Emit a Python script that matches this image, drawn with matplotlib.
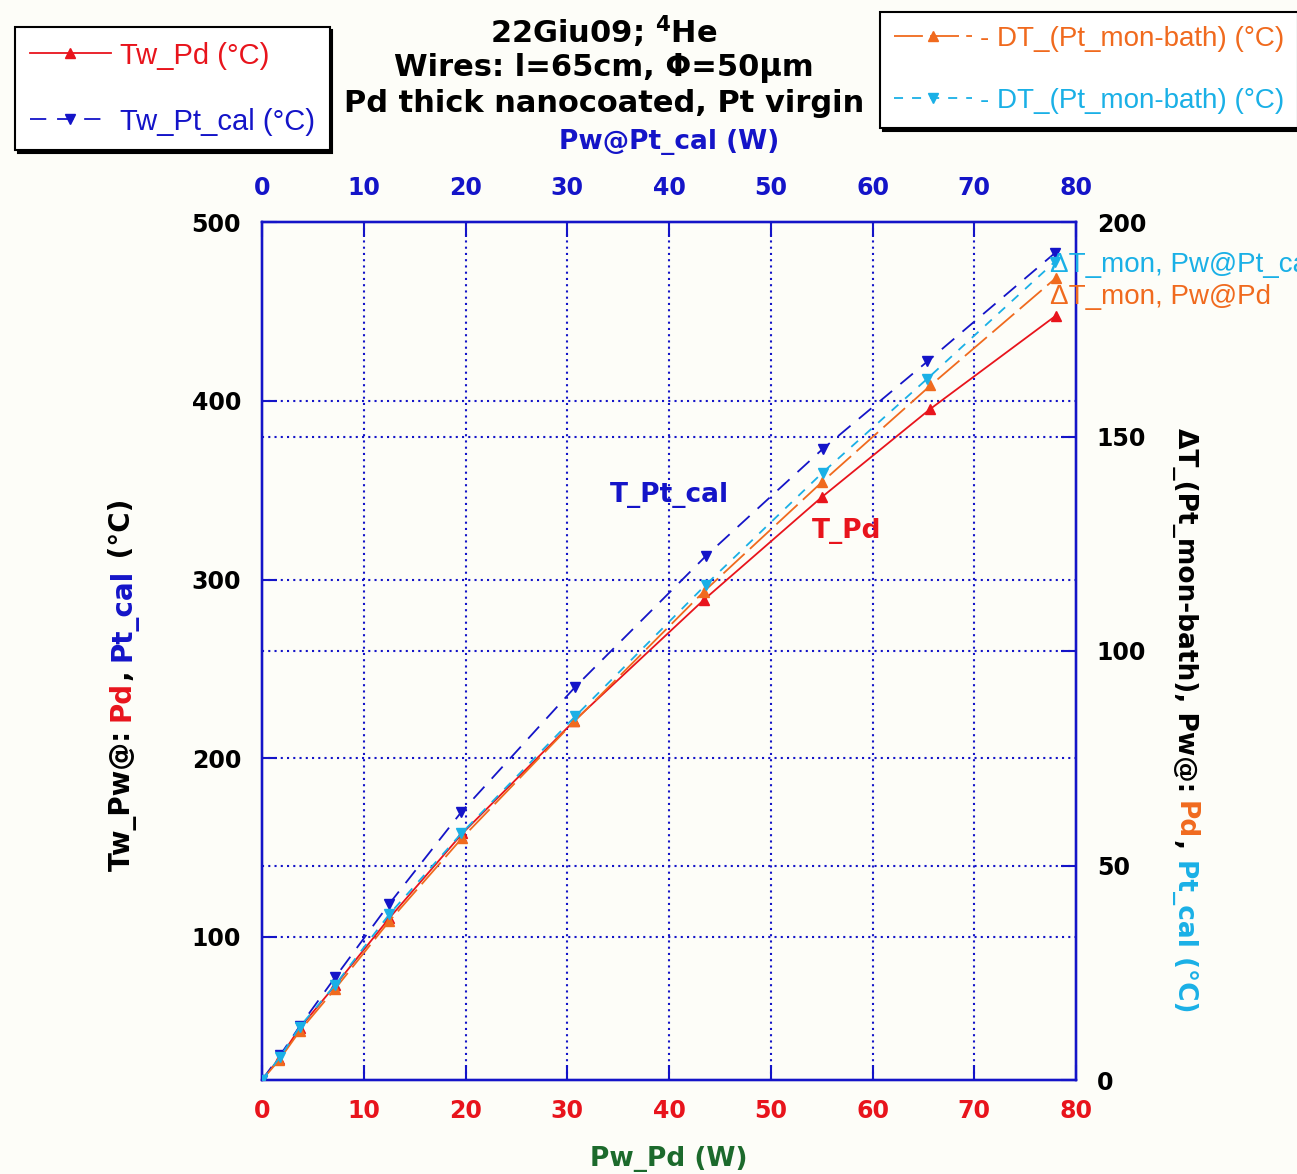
import matplotlib
matplotlib.use("Agg")
import matplotlib.pyplot as plt
from matplotlib.lines import Line2D

###############################################################################
# Data
###############################################################################

pw_pd = [0, 1.7, 3.7, 7.2, 12.5, 19.7, 30.7, 43.4, 55.0, 65.7, 78.0]
tw_pd = [20, 32, 49, 73, 110.5, 158, 221, 288.5, 346, 395.5, 447.5]

pw_pt = [0, 1.8, 3.7, 7.2, 12.5, 19.6, 30.8, 43.6, 55.1, 65.4, 77.9]
tw_pt = [20, 34, 50, 77.5, 118.5, 170, 240, 313, 373, 422, 482.5]

dt_pd = [0, 4.7, 11.4, 21.3, 37, 56.5, 83.6, 113.8, 139.3, 161.9, 186.9]
dt_pt = [0, 5.4, 12.4, 22.2, 38.6, 57.5, 84.8, 115.4, 141.6, 163.5, 190.7]

x_ticks = [0, 10, 20, 30, 40, 50, 60, 70, 80]
left_ticks = [100, 200, 300, 400, 500]
right_ticks = [0, 50, 100, 150, 200]

###############################################################################
# Style
###############################################################################

RED = "#e8141c"
BLUE = "#1414c8"
ORANGE = "#f06a1e"
CYAN = "#1ab0e6"
GREEN = "#1c6a2c"
BG = "#fdfdf8"

plt.rcParams["font.family"] = ["Liberation Sans", "DejaVu Sans"]
plt.rcParams["mathtext.fontset"] = "custom"
plt.rcParams["mathtext.bf"] = "DejaVu Sans:bold"

BOLD = ["DejaVu Sans"]

W, H = 1297, 1174
fig = plt.figure(figsize=(W / 100, H / 100), dpi=100, facecolor=BG)

ax = fig.add_axes([262 / W, 1 - 1080 / H, (1076 - 262) / W, (1080 - 222) / H])
ax.set_facecolor(BG)
ax_top = ax.twiny()
ax_r = ax.twinx()

###############################################################################
# Curves
###############################################################################

ax.plot(pw_pd, tw_pd, color=RED, lw=1.3, marker="^", ms=7, zorder=5)
ax_top.plot(pw_pt, tw_pt, color=BLUE, lw=1.3, ls=(0, (9, 6)), marker="v",
            ms=7, zorder=5)
ax_r.plot(pw_pd, dt_pd, color=ORANGE, lw=1.3, ls=(0, (16, 4)), marker="^",
          ms=7, zorder=4)
ax_r.plot(pw_pt, dt_pt, color=CYAN, lw=1.3, ls=(0, (5, 5)), marker="v",
          ms=7, zorder=4)

###############################################################################
# Axes formatting
###############################################################################

ax.set_xlim(0, 80)
ax.set_ylim(20, 500)
ax_top.set_xlim(0, 80)
ax_r.set_ylim(0, 200)

ax.set_xticks(x_ticks)
ax_top.set_xticks(x_ticks)
ax.set_yticks(left_ticks)
ax_r.set_yticks(right_ticks)

for a in (ax, ax_top, ax_r):
    for s in a.spines.values():
        s.set_color(BLUE)
        s.set_linewidth(1.6)
    a.tick_params(direction="in", length=11, width=1.5, color=BLUE,
                  labelsize=17, pad=15)
ax.tick_params(axis="x", pad=14)
ax_top.tick_params(axis="x", pad=16)

for lab in ax.get_xticklabels():
    lab.set_color(RED)
for lab in ax_top.get_xticklabels():
    lab.set_color(BLUE)
for lab in (ax.get_xticklabels() + ax_top.get_xticklabels()
            + ax.get_yticklabels() + ax_r.get_yticklabels()):
    lab.set_fontweight("bold")
    lab.set_family(BOLD)

# dotted grid: vertical from x ticks, horizontal from both y axes
for xv in x_ticks[1:-1]:
    ax.axvline(xv, color=BLUE, ls=(0, (1, 2)), lw=1.5, zorder=1)
for yv in left_ticks[:-1]:
    ax.axhline(yv, color=BLUE, ls=(0, (1, 2)), lw=1.5, zorder=1)
for yv in right_ticks[1:-1]:
    ax_r.axhline(yv, color=BLUE, ls=(0, (1, 2)), lw=1.5, zorder=1)

ax.set_xlabel("Pw_Pd (W)", color=GREEN, fontsize=19, fontweight="bold",
              family=BOLD, labelpad=16)
ax_top.set_xlabel("Pw@Pt_cal (W)", color=BLUE, fontsize=19,
                  fontweight="bold", family=BOLD, labelpad=19)

###############################################################################
# In-plot annotations
###############################################################################

ax.text(34.2, 347, "T_Pt_cal", color=BLUE, fontsize=19, fontweight="bold",
        family=BOLD, va="center")
ax.text(54.0, 327, "T_Pd", color=RED, fontsize=19, fontweight="bold",
        family=BOLD, va="center")
ax_r.text(77.4, 190, "\u0394T_mon, Pw@Pt_cal", color=CYAN, fontsize=20,
          va="center", clip_on=False)
ax_r.text(77.4, 182.5, "\u0394T_mon, Pw@Pd", color=ORANGE, fontsize=20,
          va="center", clip_on=False)

###############################################################################
# Title
###############################################################################

title_lines = [r"22Giu09; $^\mathbf{4}$He",
               "Wires: l=65cm, \u03a6=50\u03bcm",
               "Pd thick nanocoated, Pt virgin"]
for line, ypx in zip(title_lines, [32, 68, 103]):
    fig.text(604 / W, 1 - ypx / H, line, ha="center", va="center",
             fontsize=22, fontweight="bold", family=BOLD)

###############################################################################
# Multi-colour rotated axis labels
###############################################################################

renderer = fig.canvas.get_renderer()


def text_len(s, **kw):
    t1 = fig.text(0, 0, s + "|", **kw)
    t2 = fig.text(0, 0, "|", **kw)
    w = t1.get_window_extent(renderer).width - t2.get_window_extent(renderer).width
    t1.remove()
    t2.remove()
    return w


def color_label(parts, x_px, y_mid_px, rotation, **kw):
    total = text_len("".join(p for p, _ in parts), **kw)
    sign = 1 if rotation == 90 else -1
    pos = y_mid_px - sign * total / 2
    for s, c in parts:
        fig.text(x_px / W, pos / H, s, color=c, rotation=rotation,
                 rotation_mode="anchor", ha="left", va="baseline", **kw)
        pos += sign * text_len(s, **kw)


color_label([("Tw_Pw@: ", "black"), ("Pd", RED), (", ", "black"),
             ("Pt_cal", BLUE), (" (\u00b0C)", "black")],
            130, H - 685, 90, fontsize=20, fontweight="bold", family=BOLD)

color_label([("\u0394T_(Pt_mon-bath), Pw@: ", "black"), ("Pd", ORANGE),
             (", ", "black"), ("Pt_cal (\u00b0C)", CYAN)],
            1178, H - 720, -90, fontsize=19, fontweight="bold", family=BOLD)

###############################################################################
# Legends
###############################################################################

leg_kw = dict(frameon=True, fancybox=False, borderaxespad=0,
              handletextpad=0.3, labelspacing=1.3, borderpad=0.5,
              labelcolor="linecolor", numpoints=1,
              shadow={"color": "black", "alpha": 1})

h_left = [
    Line2D([], [], color=RED, lw=1.3, marker="^", ms=7),
    Line2D([], [], color=BLUE, lw=1.3, ls=(0, (9, 6)), marker="v", ms=7),
]
leg1 = fig.legend(h_left, ["Tw_Pd (\u00b0C)", "Tw_Pt_cal (\u00b0C)"],
                  loc="upper left", bbox_to_anchor=(15 / W, 1 - 27 / H),
                  fontsize=21, handlelength=2.8, **leg_kw)

h_right = [
    Line2D([], [], color=ORANGE, lw=1.3, ls=(0, (16, 4)), marker="^", ms=7),
    Line2D([], [], color=CYAN, lw=1.3, ls=(0, (5, 5)), marker="v", ms=7),
]
leg2 = fig.legend(h_right, ["- DT_(Pt_mon-bath) (\u00b0C)",
                            "- DT_(Pt_mon-bath) (\u00b0C)"],
                  loc="upper left", bbox_to_anchor=(880 / W, 1 - 12 / H),
                  fontsize=20, handlelength=2.8, **leg_kw)

for leg in (leg1, leg2):
    leg.get_frame().set_edgecolor("black")
    leg.get_frame().set_linewidth(1.5)
    leg.get_frame().set_facecolor("white")

fig.savefig("out.png", dpi=100, facecolor=BG)
